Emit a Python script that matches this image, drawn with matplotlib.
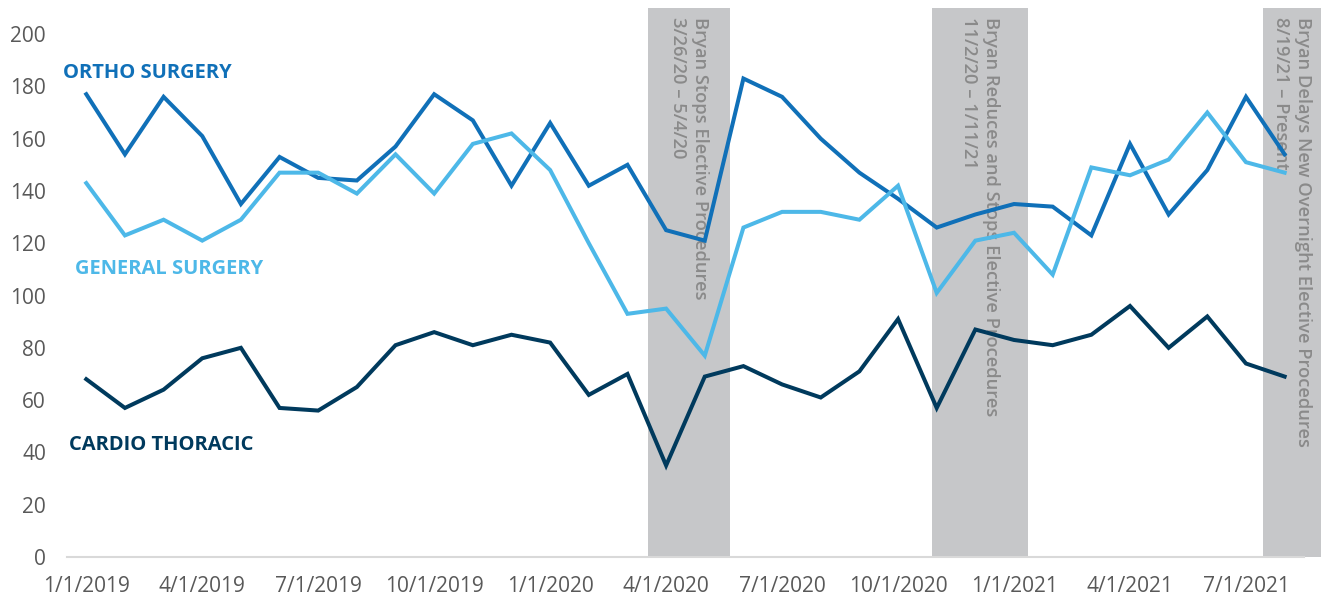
import numpy as np
import matplotlib.pyplot as plt

# Monthly categories, Jan 2019 - Aug 2021
months = [f"{m}/1/{y}" for y in (2019, 2020, 2021) for m in range(1, 13)][:32]

ortho = [177, 154, 176, 161, 135, 153, 145, 144, 157, 177, 167, 142,
         166, 142, 150, 125, 121, 183, 176, 160, 147, 137, 126, 131,
         135, 134, 123, 158, 131, 148, 176, 154]
general = [143, 123, 129, 121, 129, 147, 147, 139, 154, 139, 158, 162,
           148, 120, 93, 95, 77, 126, 132, 132, 129, 142, 101, 121,
           124, 108, 149, 146, 152, 170, 151, 147]
cardio = [68, 57, 64, 76, 80, 57, 56, 65, 81, 86, 81, 85,
          82, 62, 70, 35, 69, 73, 66, 61, 71, 91, 57, 87,
          83, 81, 85, 96, 80, 92, 74, 69]

# Shaded periods (start, end in month-index units) and their notes
bands = [(14.53, 16.65), (21.88, 24.36), (30.43, 31.95)]
band_notes = ["Bryan Stops Elective Procedures\n3/26/20 \u2013 5/4/20",
              "Bryan Reduces and Stops Elective Procedures\n11/2/20 \u2013 1/11/21",
              "Bryan Delays New Overnight Elective Procedures\n8/19/21 \u2013 Present"]

plt.rcParams['font.family'] = ['Open Sans', 'DejaVu Sans']

fig = plt.figure(figsize=(13.23, 6.02), dpi=100)
ax = fig.add_axes([0.0506, 0.0748, 0.935, 0.912])

x = np.arange(len(months))
ymax = 210

# Gray bands with rotated notes
for (a, b), note in zip(bands, band_notes):
    ax.fill_between([a, b], 0, ymax, color='#C6C7C9', lw=0, zorder=1,
                    clip_on=False)
    xc = (a + b) / 2
    ax.text(xc, ymax - 3.5, note, rotation=270, ha='center', va='top',
            multialignment='left', color='#8A8A8A', fontsize=13.2,
            fontweight='semibold', linespacing=1.3, zorder=2)

ax.plot(x, ortho, color='#1070B8', lw=2.9, zorder=3, solid_joinstyle='miter')
ax.plot(x, general, color='#4DB8E8', lw=2.9, zorder=3, solid_joinstyle='miter')
ax.plot(x, cardio, color='#003A5D', lw=2.9, zorder=4, solid_joinstyle='miter')

# Series labels
ax.text(-0.6, 185, 'ORTHO SURGERY', color='#1070B8', fontsize=14.5,
        fontweight='bold', va='center', ha='left')
ax.text(-0.3, 110, 'GENERAL SURGERY', color='#4DB8E8', fontsize=14.5,
        fontweight='bold', va='center', ha='left')
ax.text(-0.45, 43, 'CARDIO THORACIC', color='#003A5D', fontsize=14.5,
        fontweight='bold', va='center', ha='left')

ax.set_xlim(-0.5, 31.5)
ax.set_ylim(0, ymax)
ax.set_yticks(np.arange(0, 201, 20))
ax.set_xticks(x[::3])
ax.set_xticklabels(months[::3])
ax.tick_params(axis='both', length=0, labelsize=15, labelcolor='#595959')
ax.tick_params(axis='x', pad=14)
ax.tick_params(axis='y', pad=15)

for side in ('top', 'right', 'left'):
    ax.spines[side].set_visible(False)
ax.spines['bottom'].set_color('#D9D9D9')
ax.spines['bottom'].set_linewidth(1.5)
ax.spines['bottom'].set_zorder(5)

fig.savefig('out.png', dpi=100)
